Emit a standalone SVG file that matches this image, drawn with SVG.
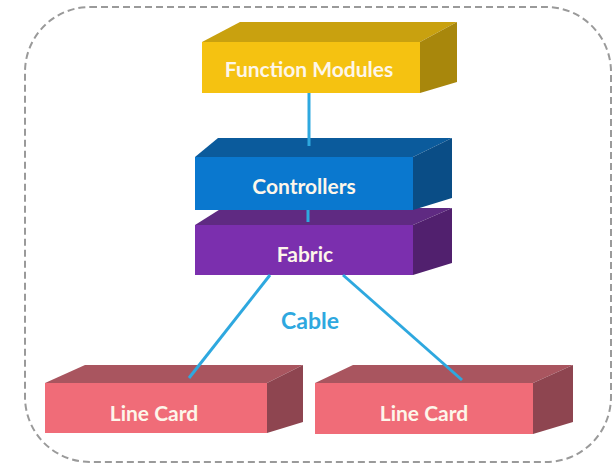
<svg xmlns="http://www.w3.org/2000/svg" width="615" height="465" viewBox="0 0 615 465">
  <style>
    .lbl { font-family: Lato, "Open Sans", "Liberation Sans", sans-serif; font-weight: bold; fill: #fdf6ea; text-anchor: middle; dominant-baseline: central; font-size: 21px; }
    .cable { stroke: #2ea8df; stroke-width: 3; fill: none; }
    .frame { fill: none; stroke: #9a9a9a; stroke-width: 2; stroke-dasharray: 7 4; }
  </style>
  <rect width="615" height="465" fill="#ffffff"/>

  <!-- dashed enclosure -->
  <rect class="frame" x="25" y="7" width="586" height="455" rx="65" ry="65"/>

  <!-- function modules -->
  <g id="function-modules">
    <polygon points="202,42 240,22 457,22 420,42" fill="#c9a10f"/>
    <polygon points="420,42 457,22 457,82 420,93" fill="#a8870c"/>
    <rect x="202" y="42" width="218" height="51" fill="#f5c211"/>
    <text class="lbl" x="309" y="68">Function Modules</text>
  </g>

  <!-- fabric -->
  <g id="fabric">
    <polygon points="195,225 222,208 452,208 413,225" fill="#5f2a82"/>
    <polygon points="413,225 452,208 452,263 413,275" fill="#51206e"/>
    <rect x="195" y="225" width="218" height="50" fill="#7b2fae"/>
    <text class="lbl" x="305" y="253">Fabric</text>
  </g>

  <!-- controllers -->
  <g id="controllers">
    <polygon points="195,157 218,138 452,138 413,157" fill="#0b5b9c"/>
    <polygon points="413,157 452,138 452,198 413,210" fill="#0a4d86"/>
    <rect x="195" y="157" width="218" height="53" fill="#0a78cf"/>
    <text class="lbl" x="304" y="185">Controllers</text>
  </g>

  <!-- line cards -->
  <g id="line-card-1">
    <polygon points="45,383 85,365 303,365 267,383" fill="#a9555f"/>
    <polygon points="267,383 303,365 303,422 267,433" fill="#8e4550"/>
    <rect x="45" y="383" width="222" height="50" fill="#f06c78"/>
    <text class="lbl" x="154" y="412">Line Card</text>
  </g>
  <g id="line-card-2">
    <polygon points="315,383 353,365 573,365 533,383" fill="#a9555f"/>
    <polygon points="533,383 573,365 573,422 533,434" fill="#8e4550"/>
    <rect x="315" y="383" width="218" height="51" fill="#f06c78"/>
    <text class="lbl" x="424" y="412">Line Card</text>
  </g>

  <!-- connectors, drawn over the box tops -->
  <g id="connectors">
    <line class="cable" x1="309" y1="93" x2="309" y2="146"/>
    <line class="cable" x1="308" y1="210" x2="308" y2="222"/>
    <line class="cable" x1="270" y1="275" x2="189" y2="378"/>
    <line class="cable" x1="343" y1="275" x2="462" y2="380"/>
    <text x="310" y="320" font-family="Lato, 'Open Sans', 'Liberation Sans', sans-serif" font-weight="bold" font-size="23" fill="#2ea8df" text-anchor="middle" dominant-baseline="central">Cable</text>
  </g>
</svg>
